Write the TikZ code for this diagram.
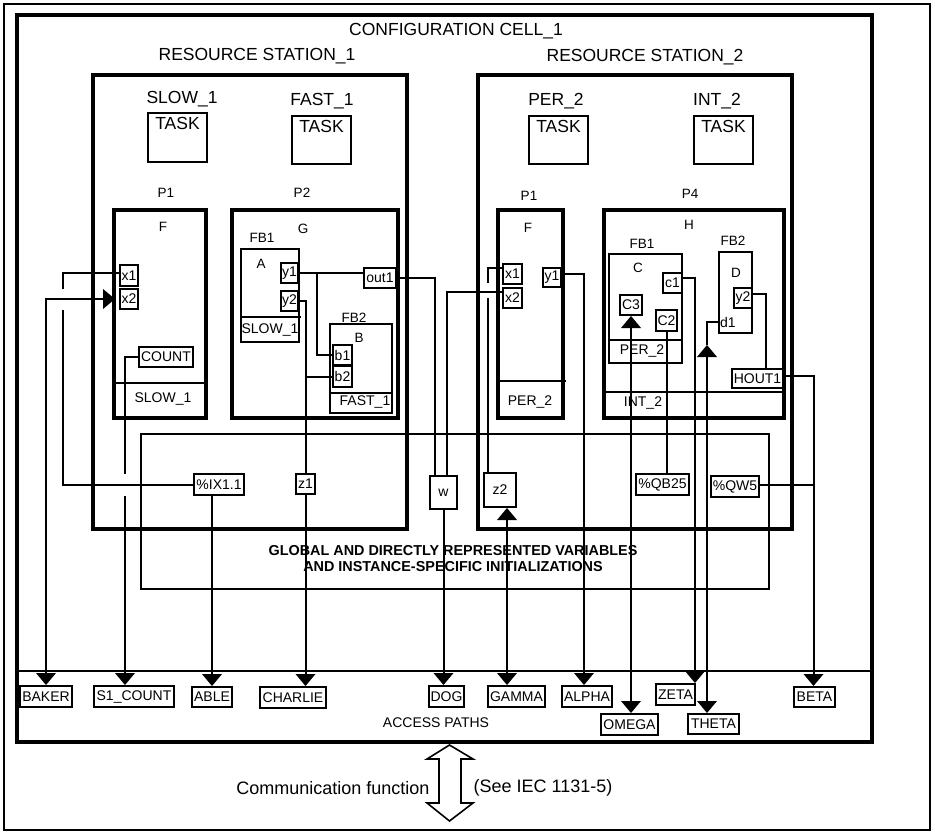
\documentclass[tikz,border=0pt]{standalone}
\usepackage{fontspec}
\setmainfont{Liberation Sans}
\usetikzlibrary{arrows.meta,fit}

\begin{document}
\begin{tikzpicture}[x=1pt,y=-1pt,
  frame/.style={draw, line width=3.2pt, inner sep=0pt},
  thin/.style={draw, line width=1.6pt, inner sep=0pt},
  port/.style={draw, line width=2pt, inner sep=0pt, font=\fontsize{14}{14}\selectfont},
  title/.style={font=\fontsize{17.5}{17.5}\selectfont, inner sep=0pt},
  lbl/.style={font=\fontsize{13.5}{13.5}\selectfont, inner sep=0pt},
  txt/.style={font=\fontsize{14}{14}\selectfont, inner sep=0pt},
  wire/.style={line width=2pt},
  sep/.style={line width=1.6pt},
  toend/.style={-{Triangle[width=20pt,length=12pt,line width=0pt]}},
  bothends/.style={{Triangle[width=20pt,length=12pt,line width=0pt]}-{Triangle[width=20pt,length=12pt,line width=0pt]}},
]
\useasboundingbox (0,0) rectangle (935,835);

% ---------- enclosing frames ----------
\node[thin, fit={(4,4) (930,830)}] (page) {};
\node[frame, fit={(17,15) (872,742)}] (cell) {};
\node[title] (celltitle) at (456,31.5) {CONFIGURATION CELL\_1};
\node[title] (rs1title) at (257,56) {RESOURCE STATION\_1};
\node[title] (rs2title) at (645,57) {RESOURCE STATION\_2};
\node[frame, fit={(93,75) (407,529)}] (rs1) {};
\node[frame, fit={(478,75) (792,529)}] (rs2) {};

% ---------- tasks ----------
\node[title] (slowname) at (182,99) {SLOW\_1};
\node[thin, fit={(148,113) (207,162)}] (t1) {};
\node[title] (t1txt) at (177.5,123.5) {TASK};
\node[title] (fastname) at (322,101) {FAST\_1};
\node[thin, fit={(292,116) (351,164)}] (t2) {};
\node[title] (t2txt) at (321.5,126.5) {TASK};
\node[title] (pername) at (556,101) {PER\_2};
\node[thin, fit={(529,116) (588,164)}] (t3) {};
\node[title] (t3txt) at (558.5,126.5) {TASK};
\node[title] (intname) at (717,101) {INT\_2};
\node[thin, fit={(694,116) (753,164)}] (t4) {};
\node[title] (t4txt) at (723.5,126.5) {TASK};

% ---------- programs ----------
\node[lbl] (p1a) at (166,193) {P1};
\node[lbl] (p2a) at (302,193) {P2};
\node[lbl] (p1b) at (529,196) {P1};
\node[lbl] (p4b) at (690,194) {P4};

\node[frame, fit={(114,210) (206,418)}] (F1) {};
\node[lbl] (F1name) at (163,227) {F};
\draw[sep] (F1.west |- 0,383) -- (207,383);
\node[txt] (F1task) at (163,399) {SLOW\_1};

\node[frame, fit={(232,210) (398,418)}] (G) {};
\node[lbl] (Gname) at (303,229) {G};

\node[frame, fit={(498,210) (563,418)}] (F2) {};
\node[lbl] (F2name) at (528,228) {F};
\draw[sep] (F2.west |- 0,381) -- (566,381);
\node[txt] (F2task) at (530,402) {PER\_2};

\node[frame, fit={(604,210) (784,418)}] (H) {};
\node[lbl] (Hname) at (689,225) {H};
\draw[sep] (H.west |- 0,392) -- (H.east |- 0,392);
\node[txt] (Htask) at (643,403) {INT\_2};

% ---------- function blocks ----------
\node[lbl] (fb1aname) at (262,238) {FB1};
\node[thin, fit={(241,249) (299,342)}] (FB1a) {};
\draw[sep] (FB1a.west |- 0,317) -- (301,317);
\node[lbl] (Aname) at (261,264) {A};
\node[txt] (FB1atask) at (270,330) {SLOW\_1};

\node[lbl] (fb2aname) at (354,318) {FB2};
\node[thin, fit={(330,324) (392,413)}] (FB2a) {};
\draw[sep] (FB2a.west |- 0,393) -- (FB2a.east |- 0,393);
\node[lbl] (Bname) at (359,338) {B};
\node[txt] (FB2atask) at (365,402) {FAST\_1};

\node[lbl] (fb1cname) at (642,244) {FB1};
\node[thin, fit={(609,254) (682,363)}] (FB1c) {};
\draw[sep] (FB1c.west |- 0,340) -- (FB1c.east |- 0,340);
\node[lbl] (Cname) at (638,268) {C};
\node[txt] (FB1ctask) at (642,351) {PER\_2};

\node[lbl] (fb2dname) at (733,241) {FB2};
\node[thin, fit={(719,252) (752,333)}] (FB2d) {};
\node[lbl] (Dname) at (736,273) {D};
\node[txt, anchor=west] (d1) at (720,322) {d1};

% ---------- global variable area ----------
\node[thin, fit={(141,434) (769,589)}] (glob) {};
\node[font=\bfseries\fontsize{14.4}{16}\selectfont, align=center, inner sep=0pt] (globtxt) at (453,559)
  {GLOBAL AND DIRECTLY REPRESENTED VARIABLES\\AND INSTANCE-SPECIFIC INITIALIZATIONS};

% ---------- access paths ----------
\coordinate (apr) at (874,671);
\draw[sep] (cell.west |- apr) -- (apr);
\node[txt] (aptxt) at (436,723) {ACCESS PATHS};

% ---------- ports and variables ----------
\node[port, minimum width=18pt, minimum height=21pt] (x1a) at (129,275.5) {x1};
\node[port, minimum width=18pt, minimum height=20pt] (x2a) at (129,299) {x2};
\node[port, minimum width=54pt, minimum height=20pt] (COUNT) at (166,357) {COUNT};
\node[port, minimum width=17pt, minimum height=20pt] (y1a) at (289.5,273) {y1};
\node[port, minimum width=17pt, minimum height=20pt] (y2a) at (289.5,301) {y2};
\node[port, minimum width=32pt, minimum height=20pt] (out1) at (380,278) {out1};
\node[port, minimum width=19pt, minimum height=20pt] (b1) at (342.5,355) {b1};
\node[port, minimum width=19pt, minimum height=21pt] (b2) at (342.5,376.5) {b2};
\node[port, minimum width=19pt, minimum height=20pt] (x1b) at (512.5,274) {x1};
\node[port, minimum width=19pt, minimum height=20pt] (x2b) at (512.5,298) {x2};
\node[port, minimum width=18pt, minimum height=19pt] (y1b) at (552,277.5) {y1};
\node[port, minimum width=19pt, minimum height=20pt] (c1) at (672.5,283) {c1};
\node[port, minimum width=22pt, minimum height=20pt] (C3) at (631,305) {C3};
\node[port, minimum width=21pt, minimum height=21pt] (C2) at (666.5,320.5) {C2};
\node[port, minimum width=18pt, minimum height=20pt] (y2d) at (743,298) {y2};
\node[port, minimum width=51pt, minimum height=19pt] (HOUT1) at (757.5,378.5) {HOUT1};

\node[port, minimum width=50pt, minimum height=21pt] (IX) at (219,484.5) {\%IX1.1};
\node[port, minimum width=19pt, minimum height=20pt] (z1) at (305.5,484) {z1};
\node[port, minimum width=27pt, minimum height=33pt] (w) at (443.5,492.5) {w};
\node[port, minimum width=32pt, minimum height=34pt] (z2) at (500,490) {z2};
\node[port, minimum width=53pt, minimum height=21pt] (QB25) at (662.5,484.5) {\%QB25};
\node[port, minimum width=48pt, minimum height=21pt] (QW5) at (735,486.5) {\%QW5};

\node[port, minimum width=52pt, minimum height=21pt] (BAKER) at (46,696.5) {BAKER};
\node[port, minimum width=80pt, minimum height=21pt] (S1COUNT) at (134,696.5) {S1\_COUNT};
\node[port, minimum width=40pt, minimum height=20pt] (ABLE) at (212,697) {ABLE};
\node[port, minimum width=66pt, minimum height=21pt] (CHARLIE) at (293,697.5) {CHARLIE};
\node[port, minimum width=35pt, minimum height=21pt] (DOG) at (446.5,696.5) {DOG};
\node[port, minimum width=57pt, minimum height=21pt] (GAMMA) at (516.5,696.5) {GAMMA};
\node[port, minimum width=50pt, minimum height=21pt] (ALPHA) at (587,696.5) {ALPHA};
\node[port, minimum width=57pt, minimum height=21pt] (OMEGA) at (629.5,724.5) {OMEGA};
\node[port, minimum width=39pt, minimum height=21pt] (ZETA) at (675.5,694.5) {ZETA};
\node[port, minimum width=51pt, minimum height=20pt] (THETA) at (713.5,724) {THETA};
\node[port, minimum width=41pt, minimum height=20pt] (BETA) at (814.5,697) {BETA};

% ---------- connections, resource station 1 ----------
\coordinate (ja) at (63,310);
\coordinate (jb) at (63,289);
\draw[wire] (IX.west) -| (ja);
\draw[wire] (jb) |- ([yshift=2.5pt]x1a.west);
\draw[wire,toend] (IX.south -| ABLE.north) -- (ABLE.north);

\draw[wire,bothends,shorten >=4pt] (BAKER.north) |- (x2a.west);

\coordinate (jc) at (125,474);
\coordinate (jd) at (125,496);
\draw[wire] (COUNT.west) -| (jc);
\draw[wire,toend] (jd) -- (jd |- S1COUNT.north);

\coordinate (ya) at (317,273);
\draw[wire] (y1a.east) -- (y1a.east -| out1.west);
\draw[wire] (ya) |- (b1.west);

\draw[wire] (y2a.east) -| (z1.north);
\draw[wire] (z1.north |- b2.west) -- (b2.west);
\draw[wire,toend] (z1.south) -- (z1.south |- CHARLIE.north);

\coordinate (wa) at ([xshift=-8.5pt]w.north);
\coordinate (wb) at ([xshift=3.5pt]w.north);
\draw[wire] (out1.east) -| (wa);
\draw[wire] ([yshift=6pt]x2b.west) -| (wb);
\draw[wire,toend] (w.south) -- (w.south |- DOG.north);

% ---------- connections, resource station 2 ----------
\coordinate (za) at (488,283);
\coordinate (zb) at (488,298);
\draw[wire] ([yshift=6pt]x1b.west) -| (za);
\draw[wire] (zb) -- (zb |- z2.north);
\coordinate (zg) at ([xshift=7pt]z2.south);
\draw[wire,bothends] (zg) -- (zg |- GAMMA.north);

\coordinate (al) at ([xshift=-3pt]ALPHA.north);
\draw[wire,toend] ([yshift=3.5pt]y1b.east) -| (al);

\coordinate (ze) at ([xshift=-1pt]ZETA.north east);
\draw[wire,toend] ([yshift=5pt]c1.east) -| (ze);

\draw[wire] (C2.south) -- (C2.south |- QB25.north);
\draw[wire,bothends] (C3.south) -- (C3.south |- OMEGA.north);

\coordinate (thmid) at (707,345);
\draw[wire] (d1.west) -| (thmid);
\draw[wire,bothends] (thmid) -- (thmid |- THETA.north);

\coordinate (hb) at ([xshift=8pt]HOUT1.north);
\draw[wire] ([yshift=4pt]y2d.east) -| (hb);
\coordinate (be) at ([xshift=-1pt]BETA.north);
\draw[wire,toend] ([yshift=2.5pt]HOUT1.east) -| (be);
\coordinate (qw) at ([yshift=1.5pt]QW5.east);
\draw[wire] (qw) -- (qw -| be);

% ---------- communication function ----------
\draw[line width=1.6pt, fill=white] (449.5,745) -- (473,759) -- (461,759) -- (461,803)
  -- (473,803) -- (449.5,821) -- (427,803) -- (439,803) -- (439,759) -- (427,759) -- cycle;
\node[font=\fontsize{18}{18}\selectfont, inner sep=0pt] (comm) at (333,788) {Communication function};
\node[font=\fontsize{18}{18}\selectfont, inner sep=0pt] (iec) at (543,788) {(See IEC 1131-5)};

\end{tikzpicture}
\end{document}
